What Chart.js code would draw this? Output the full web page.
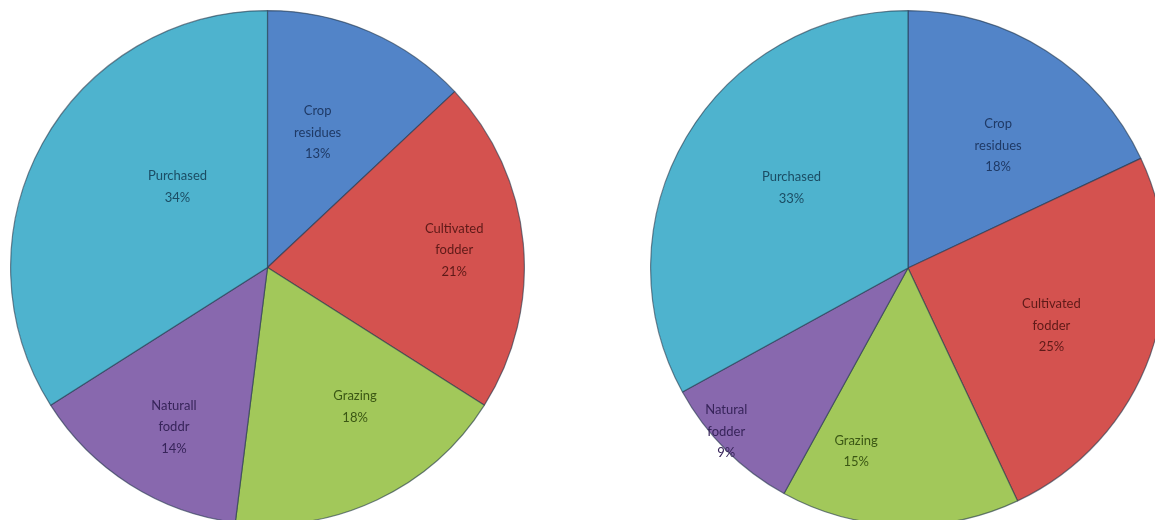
<!DOCTYPE html>
<html>
<head>
<meta charset="utf-8">
<script src="https://cdn.jsdelivr.net/npm/chart.js@4"></script>
<style>
  html, body { margin: 0; padding: 0; background: #fff; width: 1155px; height: 520px; overflow: hidden; }
  .pie { position: absolute; }
</style>
</head>
<body>
<div class="pie" style="left:10px; top:10px;"><canvas id="left" width="515" height="515"></canvas></div>
<div class="pie" style="left:650px; top:10px;"><canvas id="right" width="516" height="516"></canvas></div>
<script>
    // data
    var leftLabels = [['Crop', 'residues'], ['Cultivated', 'fodder'], ['Grazing'], ['Naturall', 'foddr'], ['Purchased']];
    var leftValues = [13, 21, 18, 14, 34];
    var rightLabels = [['Crop', 'residues'], ['Cultivated', 'fodder'], ['Grazing'], ['Natural', 'fodder'], ['Purchased']];
    var rightValues = [18, 25, 15, 9, 33];

    var fills = ['#5284c8', '#d4524f', '#a2c85a', '#8868ae', '#4eb3ce'];
    var textColors = ['#1f3a66', '#5e1a18', '#3b5714', '#37245a', '#1b4d64'];

    // label placement: fraction of radius, angle nudge in degrees
    var leftPlace = [[0.56, -3], [0.73, 0], [0.64, -7], [0.72, -2], [0.47, 13]];
    var rightPlace = [[0.59, 4], [0.60, 2], [0.74, 14], [0.95, 3], [0.55, 4]];

    var sliceLabels = {
        id: 'sliceLabels',
        afterDatasetsDraw: function(chart, args, opts) {
            var ctx = chart.ctx;
            var meta = chart.getDatasetMeta(0);
            var values = chart.data.datasets[0].data;
            var total = values.reduce(function(a, b) { return a + b; }, 0);
            ctx.save();
            ctx.font = '13px Lato, "Open Sans", sans-serif';
            ctx.textAlign = 'center';
            ctx.textBaseline = 'middle';
            meta.data.forEach(function(arc, i) {
                var p = arc.getProps(['x', 'y', 'startAngle', 'endAngle', 'outerRadius'], true);
                var place = opts.place[i];
                var a = (p.startAngle + p.endAngle) / 2 + place[1] * Math.PI / 180;
                var r = p.outerRadius * place[0];
                var cx = p.x + Math.cos(a) * r;
                var cy = p.y + Math.sin(a) * r;
                var lines = chart.data.labels[i].concat([Math.round(values[i] / total * 100) + '%']);
                var lh = 21.5;
                var y0 = cy - (lines.length - 1) * lh / 2;
                ctx.fillStyle = textColors[i];
                lines.forEach(function(t, k) {
                    ctx.fillText(t, cx, y0 + k * lh);
                });
            });
            ctx.restore();
        }
    };

    function makePie(id, labels, values, place) {
        var canvas = document.getElementById(id);
        if (!canvas) { return; }
        new Chart(canvas.getContext('2d'), {
            type: 'pie',
            data: {
                labels: labels,
                datasets: [{
                    data: values,
                    backgroundColor: fills,
                    borderColor: 'rgba(35, 55, 75, 0.6)',
                    borderWidth: 1.2
                }]
            },
            options: {
                responsive: false,
                animation: false,
                layout: { padding: 0 },
                plugins: {
                    legend: { display: false },
                    tooltip: { enabled: false },
                    sliceLabels: { place: place }
                }
            },
            plugins: [sliceLabels]
        });
    }

    makePie('left', leftLabels, leftValues, leftPlace);
    makePie('right', rightLabels, rightValues, rightPlace);
</script>
</body>
</html>
